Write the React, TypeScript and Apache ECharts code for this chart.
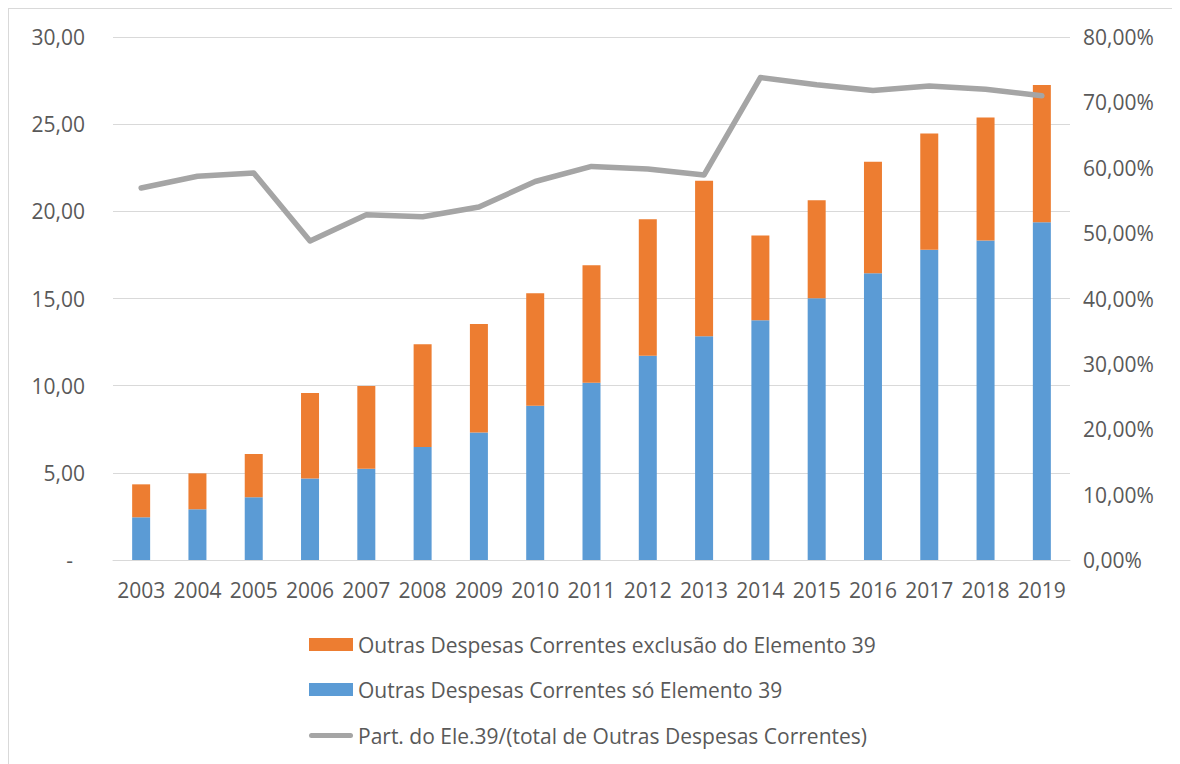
import React, { useEffect, useRef } from "react";
import * as echarts from "echarts";

const years = ["2003","2004","2005","2006","2007","2008","2009","2010","2011","2012","2013","2014","2015","2016","2017","2018","2019"];
const elemento39 = [2.45, 2.91, 3.60, 4.67, 5.24, 6.48, 7.31, 8.85, 10.17, 11.72, 12.83, 13.75, 15.01, 16.45, 17.79, 18.32, 19.37];
const exclusaoElemento39 = [1.89, 2.06, 2.48, 4.91, 4.74, 5.89, 6.23, 6.45, 6.74, 7.83, 8.93, 4.86, 5.63, 6.40, 6.67, 7.06, 7.88];
const participacao = [56.9, 58.7, 59.2, 48.8, 52.8, 52.5, 54.0, 57.9, 60.2, 59.8, 58.9, 73.8, 72.7, 71.8, 72.5, 72.0, 71.0];

const nameOrange = "Outras Despesas Correntes exclusão do Elemento 39";
const nameBlue = "Outras Despesas Correntes só Elemento 39";
const nameLine = "Part. do Ele.39/(total de Outras Despesas Correntes)";

const FONT = "'Open Sans', sans-serif";
const TXT = "#595959";
const FS = 21;

export default function App() {
  const ref = useRef<HTMLDivElement>(null);
  useEffect(() => {
    document.body.style.overflow = "hidden";
    const chart = echarts.init(ref.current!, null, { renderer: "svg" });
    const legendText = { fontFamily: FONT, fontSize: FS, color: TXT, lineHeight: 21 };
    chart.setOption({
      animation: false,
      textStyle: { fontFamily: FONT, color: TXT },
      grid: { left: 104, right: 110, top: 28, bottom: 196, containLabel: false },
      legend: [
        {
          orient: "vertical",
          left: 300,
          top: 625,
          padding: 0,
          itemWidth: 44,
          itemHeight: 13,
          itemGap: 24,
          textStyle: legendText,
          data: [
            { name: nameOrange, icon: "rect" },
            { name: nameBlue, icon: "rect" },
          ],
        },
        {
          orient: "vertical",
          left: 300,
          top: 716,
          padding: 0,
          itemWidth: 44,
          itemHeight: 5,
          textStyle: legendText,
          data: [
            { name: nameLine, icon: "path://M2.5,0 L41.5,0 A2.5,2.5 0 0 1 41.5,5 L2.5,5 A2.5,2.5 0 0 1 2.5,0 Z" },
          ],
        },
      ],
      xAxis: {
        type: "category",
        data: years,
        axisTick: { show: false },
        axisLine: { show: true, lineStyle: { color: "#D9D9D9", width: 1 } },
        axisLabel: { color: TXT, fontFamily: FONT, fontSize: FS, margin: 19, interval: 0 },
      },
      yAxis: [
        {
          type: "value",
          min: 0,
          max: 30,
          interval: 5,
          axisLine: { show: false },
          axisTick: { show: false },
          splitLine: { lineStyle: { color: "#D9D9D9", width: 1 } },
          axisLabel: {
            color: TXT,
            fontFamily: FONT,
            fontSize: FS,
            margin: 28,
            formatter: (v: number) => (v === 0 ? "{d|-}" : v.toFixed(2).replace(".", ",")),
            rich: { d: { color: TXT, fontFamily: FONT, fontSize: FS, padding: [0, 12, 0, 0] } },
          },
        },
        {
          type: "value",
          min: 0,
          max: 80,
          interval: 10,
          position: "right",
          axisLine: { show: false },
          axisTick: { show: false },
          splitLine: { show: false },
          axisLabel: {
            color: TXT,
            fontFamily: FONT,
            fontSize: FS,
            margin: 13,
            formatter: (v: number) => v.toFixed(2).replace(".", ",") + "%",
          },
        },
      ],
      series: [
        {
          name: nameBlue,
          type: "bar",
          stack: "total",
          barWidth: 18,
          data: elemento39,
          itemStyle: { color: "#5B9BD5" },
        },
        {
          name: nameOrange,
          type: "bar",
          stack: "total",
          barWidth: 18,
          data: exclusaoElemento39,
          itemStyle: { color: "#ED7D31" },
        },
        {
          name: nameLine,
          type: "line",
          yAxisIndex: 1,
          data: participacao,
          symbol: "none",
          showSymbol: false,
          itemStyle: { color: "#A5A5A5" },
          lineStyle: { color: "#A5A5A5", width: 5.5, cap: "round", join: "round" },
          z: 5,
        },
      ],
    });
    return () => chart.dispose();
  }, []);
  return (
    <div style={{ borderLeft: "1px solid #D9D9D9", borderTop: "1px solid #D9D9D9", width: 1200, height: 770, boxSizing: "border-box" }}>
      <div ref={ref} style={{ width: 1171, height: 747 }} />
    </div>
  );
}
